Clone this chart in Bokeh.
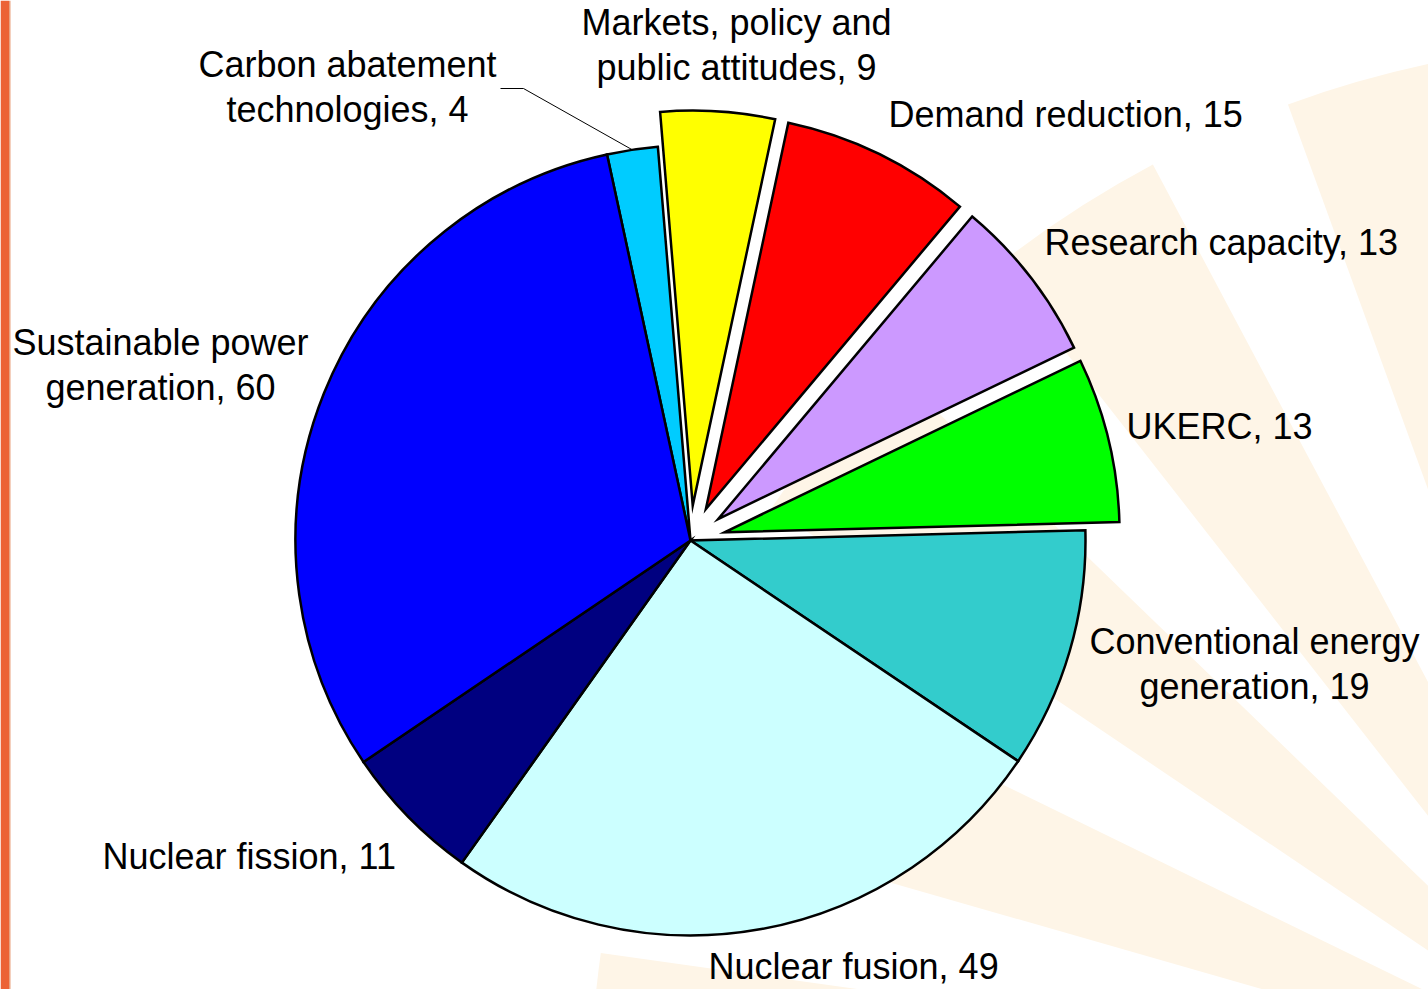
import math
from bokeh.plotting import figure
from bokeh.models import Range1d, ColumnDataSource
from bokeh.embed import file_html
from bokeh.resources import INLINE
from bokeh.core.properties import value

# ---------------- data ----------------
categories = ["Carbon abatement technologies",
              "Markets, policy and public attitudes",
              "Demand reduction",
              "Research capacity",
              "UKERC",
              "Conventional energy generation",
              "Nuclear fusion",
              "Nuclear fission",
              "Sustainable power generation"]
values = [4, 9, 15, 13, 13, 19, 49, 11, 60]
colors = ["#00CCFF", "#FFFF00", "#FF0000", "#CC99FF", "#00FF00",
          "#33CCCC", "#CCFFFF", "#000080", "#0000FF"]
exploded = [False, True, True, True, True, False, False, False, False]

# ---------------- layout (pixel coords, y down) ----------------
W, H = 1428, 989
CX, CY, R = 690, 540, 395
START_DEG = 102.2      # angle where the first slice begins, slices run clockwise
EXPLODE = 35
FONT = value("Liberation Sans")
FSIZE = "36px"
BASE_FIX = 14          # renderer places the alphabetic baseline lower

# words on first line (0 = single line), anchor x, first baseline y, align
label_layout = [
    (2, 347, 78, "center"),
    (3, 736, 36, "center"),
    (0, 888, 128, "left"),
    (0, 1044, 256, "left"),
    (0, 1126, 440, "left"),
    (2, 1254, 655, "center"),
    (0, 708, 980, "left"),
    (0, 102, 870, "left"),
    (2, 160, 356, "center"),
]
LINE_GAP = 45

p = figure(width=W, height=H,
           x_range=Range1d(0, W), y_range=Range1d(-H, 0),
           output_backend="svg", toolbar_location=None,
           x_axis_type=None, y_axis_type=None, min_border=0)
p.grid.grid_line_color = None
p.outline_line_color = None
p.background_fill_color = "white"
p.border_fill_color = "white"

# ---------------- faint slide background rays ----------------
ray_starts = [100, 118, 136, 154, 172]
p.wedge(x=[1650] * len(ray_starts), y=[-1100] * len(ray_starts), radius=1060,
        start_angle=[math.radians(a) for a in ray_starts],
        end_angle=[math.radians(a + 10) for a in ray_starts],
        fill_color="#FEF5E7", line_color=None)
# left orange strip of the slide
p.quad(left=0, right=8.5, top=0, bottom=-H, fill_color="#EC6335", line_color=None)
p.quad(left=8.5, right=10, top=0, bottom=-H, fill_color="#E9A27F", line_color=None)

# ---------------- pie ----------------
total = sum(values)
xs, ys, sa, ea = [], [], [], []
a = START_DEG
mids = []
for v, ex in zip(values, exploded):
    span = v / total * 360.0
    a_end = a - span
    mid = math.radians((a + a_end) / 2)
    mids.append(mid)
    dx = EXPLODE * math.cos(mid) if ex else 0.0
    dy = EXPLODE * math.sin(mid) if ex else 0.0
    xs.append(CX + dx)
    ys.append(-CY + dy)
    sa.append(math.radians(a_end))
    ea.append(math.radians(a))
    a = a_end

src = ColumnDataSource(dict(x=xs, y=ys, start=sa, end=ea, color=colors))
p.wedge(x="x", y="y", radius=R, start_angle="start", end_angle="end",
        fill_color="color", line_color="black", line_width=2.5,
        line_join="miter", source=src)

# leader line for the smallest slice
m0 = mids[0]
px, py = CX + R * math.cos(m0), -CY + R * math.sin(m0)
p.line(x=[500, 523, px], y=[-88, -88, py], line_color="black", line_width=1)

# ---------------- labels ----------------
tx, ty, tt, ta = [], [], [], []
for cat, v, (nw, lx, ly, al) in zip(categories, values, label_layout):
    full = f"{cat}, {v}"
    words = full.split(" ")
    lines = [full] if nw == 0 else [" ".join(words[:nw]), " ".join(words[nw:])]
    for i, ln in enumerate(lines):
        tx.append(lx)
        ty.append(-(ly + i * LINE_GAP - BASE_FIX))
        tt.append(ln)
        ta.append(al)

lsrc = ColumnDataSource(dict(x=tx, y=ty, text=tt, align=ta))
p.text(x="x", y="y", text="text", text_align="align", source=lsrc,
       text_baseline="alphabetic", text_font=FONT, text_font_size=FSIZE,
       text_color="black")

open("out.html", "w").write(file_html(p, INLINE))
